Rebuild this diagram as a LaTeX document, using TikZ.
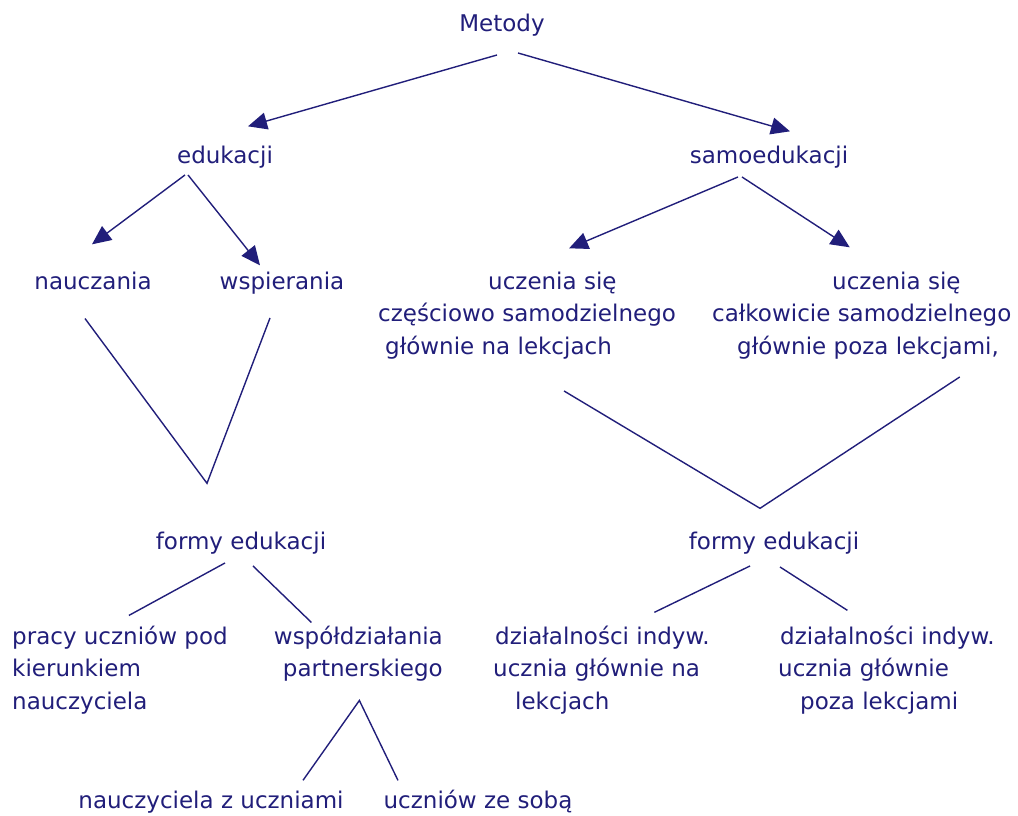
\documentclass[tikz,border=0pt]{standalone}
\usepackage{fontspec}
\setmainfont{DejaVu Sans}
\usepackage{tikz}
\usetikzlibrary{arrows.meta,calc}
\definecolor{ink}{RGB}{33,30,122}

\begin{document}
\begin{tikzpicture}[x=1pt,y=-1pt,
	lbl/.style={inner sep=0pt,text=ink,font=\fontsize{23}{32.5}\selectfont},
	arr/.style={draw=ink,line width=1.4pt,-{Triangle[length=19pt,width=17pt]}},
	ln/.style={draw=ink,line width=1.4pt}]
	\useasboundingbox (0,0) rectangle (1018,816);

	% top levels
	\node[lbl,anchor=base] (metody) at (502,32) {Metody};
	\node[lbl,anchor=base] (edu) at (225,163) {edukacji};
	\node[lbl,anchor=base] (samo) at (769,163) {samoedukacji};
	\node[lbl,anchor=base] (naucz) at (93,289) {nauczania};
	\node[lbl,anchor=base] (wspier) at (282,289) {wspierania};
	\node[lbl,anchor=base west,align=left] (uczL) at (378,354)
		{\hspace*{110pt}uczenia się\\częściowo samodzielnego\\\hspace*{7pt}głównie na lekcjach};
	\node[lbl,anchor=base west,align=left] (uczR) at (712,354)
		{\hspace*{120pt}uczenia się\\całkowicie samodzielnego\\\hspace*{25pt}głównie poza lekcjami,};

	% forms
	\node[lbl,anchor=base] (formyL) at (241,549) {formy edukacji};
	\node[lbl,anchor=base] (formyR) at (774,549) {formy edukacji};
	\node[lbl,anchor=base west,align=left] (praca) at (12,709)
		{pracy uczniów pod\\kierunkiem\\nauczyciela};
	\node[lbl,anchor=base east,align=right] (wspol) at (443,676.5)
		{współdziałania\\partnerskiego};
	\node[lbl,anchor=base west,align=left] (dzialL) at (493,709)
		{\hspace*{2pt}działalności indyw.\\ucznia głównie na\\\hspace*{22pt}lekcjach};
	\node[lbl,anchor=base west,align=left] (dzialR) at (778,709)
		{\hspace*{2pt}działalności indyw.\\ucznia głównie\\\hspace*{22pt}poza lekcjami};
	\node[lbl,anchor=base] (nauczZ) at (211,808) {nauczyciela z uczniami};
	\node[lbl,anchor=base] (uczZe) at (478,808) {uczniów ze sobą};

	% apexes of the joins
	\coordinate (vL) at ($(formyL.north)+(-34,-48)$);
	\coordinate (vR) at ($(formyR.north)+(-14,-23)$);
	\coordinate (vP) at ($(wspol.south)+(1,19)$);

	\draw[arr] ($(metody.south)+(-5,18)$) -- ($(edu.north)+(23,-19)$);
	\draw[arr] ($(metody.south)+(16,16)$) -- ($(samo.north)+(21,-14)$);
	\draw[arr] ($(edu.south)+(-40,7)$) -- ($(naucz.north)+(-1,-27)$);
	\draw[arr] ($(edu.south)+(-37,7)$) -- ($(wspier.north)+(-22,-6)$);
	\draw[arr] ($(samo.south)+(-31,9)$) -- ($(uczL.north)+(42,-23)$);
	\draw[arr] ($(samo.south)+(-27,9)$) -- ($(uczR.north)+(-12,-24)$);

	\draw[ln] ($(naucz.south)+(-8,29)$) -- (vL) -- ($(wspier.south)+(-12,24)$);
	\draw[ln] ($(uczL.south)+(37,32)$) -- (vR) -- ($(uczR.south)+(98,18)$);

	\draw[ln] ($(formyL.south)+(-16,9)$) -- ($(praca.north)+(9,-10)$);
	\draw[ln] ($(formyL.south)+(12,12)$) -- ($(wspol.north)+(-47,-3)$);
	\draw[ln] ($(formyR.south)+(-24,12)$) -- ($(dzialL.north)+(53,-13)$);
	\draw[ln] ($(formyR.south)+(6,13)$) -- ($(dzialR.north)+(-39,-15)$);

	\draw[ln] ($(nauczZ.north)+(92,-10)$) -- (vP) -- ($(uczZe.north)+(-80,-9)$);
\end{tikzpicture}
\end{document}
